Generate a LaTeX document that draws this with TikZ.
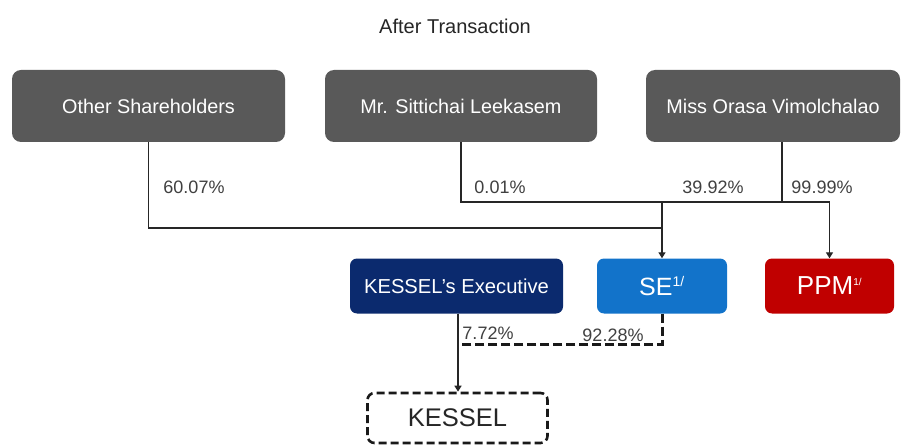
\documentclass[tikz,border=0pt]{standalone}
\usepackage{fontspec}
\setmainfont{Liberation Sans}
\usetikzlibrary{arrows.meta}
\definecolor{boxgrey}{HTML}{595959}
\definecolor{navy}{HTML}{0B2A6E}
\definecolor{seblue}{HTML}{1273CA}
\definecolor{ppmred}{HTML}{C00000}
\definecolor{lbl}{HTML}{404040}
\tikzset{
  topbox/.style={rectangle, rounded corners=9pt, fill=boxgrey, text=white, font=\fontsize{19.8}{22}\selectfont, minimum height=72pt, inner sep=0pt},
  botbox/.style={rectangle, rounded corners=7pt, text=white, minimum height=55pt, inner sep=0pt},
  conn/.style={draw=black!85, line width=1.4pt},
  arr/.style={conn, -{Triangle[width=7pt,length=6pt]}},
  dconn/.style={draw=black!90, line width=3pt, dash pattern=on 9pt off 4pt},
  pct/.style={text=lbl, font=\fontsize{18}{20}\selectfont, inner sep=0pt},
}
\begin{document}
\begin{tikzpicture}[x=1pt,y=-1pt]
\path[fill=white] (0,0) rectangle (904,446);
\useasboundingbox (0,0) rectangle (904,446);

\node[font=\fontsize{20}{22}\selectfont, text=black!85] (title) at (455,26) {After Transaction};

\node[topbox, minimum width=273pt] (other) at (148.5,106) {Other Shareholders};
\node[topbox, minimum width=272pt] (mr) at (461,106) {Mr. Sittichai Leekasem};
\node[topbox, minimum width=254pt] (miss) at (773,106) {Miss Orasa Vimolchalao};

\node[botbox, fill=navy, minimum width=213pt, font=\fontsize{20.2}{22}\selectfont] (exec) at (456.5,286) {KESSEL's Executive};
\node[botbox, fill=seblue, minimum width=130pt, font=\fontsize{25}{28}\selectfont] (se) at (662,286) {SE\textsuperscript{\fontsize{14}{15}\selectfont 1/}};
\node[botbox, fill=ppmred, minimum width=129pt, font=\fontsize{26}{28}\selectfont] (ppm) at (829.5,286) {PPM\textsuperscript{\fontsize{10}{11}\selectfont 1/}};
\node[rectangle, rounded corners=7pt, draw=black!90, line width=2.6pt, dash pattern=on 8pt off 4pt, minimum width=180pt, minimum height=50pt, font=\fontsize{25.5}{28}\selectfont, text=black!85] (kessel) at (457.5,418) {KESSEL};

% junction coordinates
\coordinate (jse) at (662,202);
\coordinate (jppm) at (829.5,202);
\coordinate (jother) at (662,228);
\coordinate (missout) at (782,142);
\coordinate (missj) at (782,202);
\coordinate (jk) at (458,344);

\draw[conn] (other.south) |- (jother);
\draw[conn] (mr.south) |- (jppm);
\draw[conn] (missout) -- (missj);
\draw[arr] (jse) -- (se.north);
\draw[arr] (jppm) -- (ppm.north);

\draw[dconn] (se.south) |- (jk);
\draw[arr] (exec.south -| jk) -- (kessel.north -| jk);

\node[pct] (p1) at (194,187) {60.07\%};
\node[pct] (p2) at (500,187) {0.01\%};
\node[pct] (p3) at (713,187) {39.92\%};
\node[pct] (p4) at (822,187) {99.99\%};
\node[pct] (p5) at (488,333) {7.72\%};
\node[pct] (p6) at (613,335) {92.28\%};
\end{tikzpicture}
\end{document}
